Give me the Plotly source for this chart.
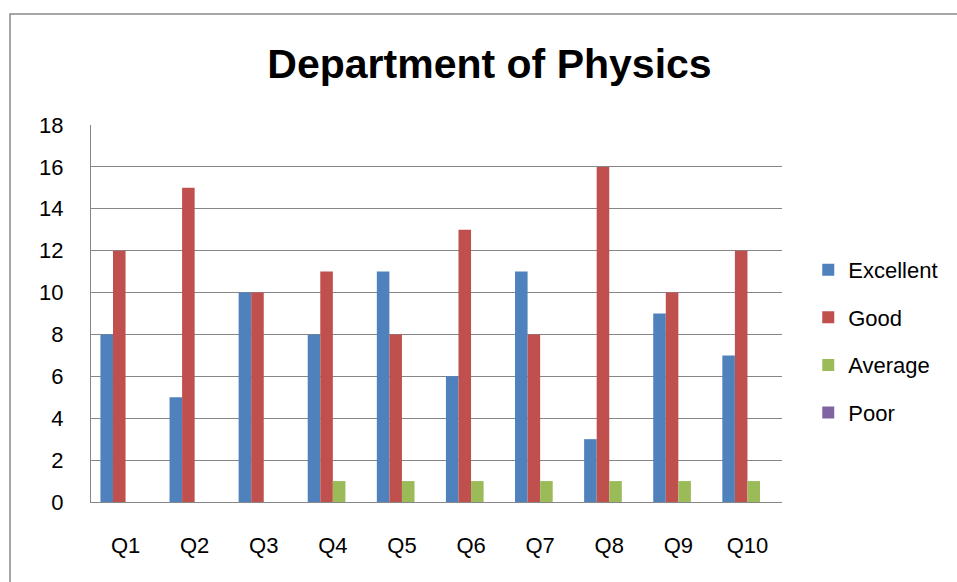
import plotly.graph_objects as go

categories = ["Q1", "Q2", "Q3", "Q4", "Q5", "Q6", "Q7", "Q8", "Q9", "Q10"]
excellent = [8, 5, 10, 8, 11, 6, 11, 3, 9, 7]
good = [12, 15, 10, 11, 8, 13, 8, 16, 10, 12]
average = [0, 0, 0, 1, 1, 1, 1, 1, 1, 1]
poor = [0, 0, 0, 0, 0, 0, 0, 0, 0, 0]
y_ticks = [0, 2, 4, 6, 8, 10, 12, 14, 16, 18]

series = [
    ("Excellent", excellent, "#4F81BD"),
    ("Good", good, "#C0504D"),
    ("Average", average, "#9BBB59"),
    ("Poor", poor, "#8064A2"),
]

FONT = "Liberation Sans, Arial, sans-serif"

fig = go.Figure()
for name, vals, color in series:
    fig.add_trace(go.Bar(
        x=categories, y=vals, name=name, legendgroup=name,
        marker=dict(color=color, line=dict(width=0)),
    ))

fig.update_layout(
    width=957, height=582,
    margin=dict(l=91, r=175, t=125, b=80),
    paper_bgcolor="white", plot_bgcolor="white",
    barmode="group", bargap=0.273, bargroupgap=0,
    font=dict(family=FONT, size=22, color="black"),
    title=dict(text="<b>Department of Physics</b>", x=489.5 / 957, xanchor="center",
               xref="container", yref="container", y=1 - 64 / 582, yanchor="middle",
               font=dict(family=FONT, size=41, color="black")),
    legend=dict(x=1.038, xanchor="left", y=0.426, yanchor="middle",
                font=dict(family=FONT, size=22), tracegroupgap=16,
                bgcolor="rgba(0,0,0,0)"),
    xaxis=dict(showline=True, linecolor="#868686", linewidth=1.3, showgrid=False,
               ticks="", ticklabelstandoff=23, tickfont=dict(size=22)),
    yaxis=dict(range=[0, 18], tickvals=y_ticks, showline=True, linecolor="#868686",
               linewidth=1.3, showgrid=True, gridcolor="#868686", gridwidth=1.3,
               ticks="", ticklabelstandoff=22, zeroline=False, tickfont=dict(size=22)),
    shapes=[dict(type="rect", xref="paper", yref="paper",
                 x0=(10 - 91) / 691, x1=(970 - 91) / 691,
                 y0=(502 - 600) / 377, y1=(502 - 14) / 377,
                 line=dict(color="#888888", width=1.5), fillcolor="rgba(0,0,0,0)", layer="below")],
)

fig.write_html("out.html", config={"displayModeBar": False},
               post_script="document.body.style.margin='0';")
